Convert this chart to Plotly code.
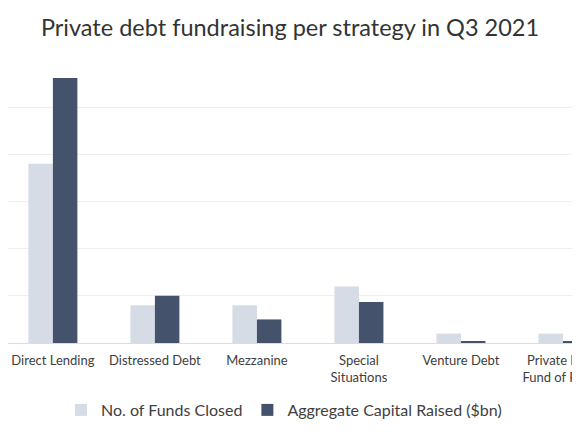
#!/usr/bin/env python3
"""Private debt fundraising per strategy, Q3 2021 (grouped bars)."""

import plotly.graph_objects as go

STRATEGIES = [
    'Direct Lending',
    'Distressed Debt',
    'Mezzanine',
    'Special<br>Situations',
    'Venture Debt',
    'Private Debt<br>Fund of Funds',
]
FUNDS_CLOSED = [38, 8, 8, 12, 2, 2]
CAPITAL_RAISED = [56.2, 10, 5, 8.7, 0.3, 0.3]

LIGHT = '#d5dce6'
DARK = '#44536b'
FONT = 'Lato, "Open Sans", sans-serif'

# the page body adds an 8px offset, so the figure is made that much smaller
# and the layout is shifted up/left to fit the 580x435 window
PLOT_TOP = 52
PLOT_BOTTOM = 335
HEIGHT = 427
WIDTH = 572


def build_figure() -> go.Figure:
    fig = go.Figure()
    fig.add_trace(go.Bar(
        x=STRATEGIES, y=FUNDS_CLOSED, name='No. of Funds Closed',
        marker=dict(color=LIGHT, line=dict(width=0)),
    ))
    fig.add_trace(go.Bar(
        x=STRATEGIES, y=CAPITAL_RAISED, name='Aggregate Capital Raised ($bn)',
        marker=dict(color=DARK, line=dict(width=0)),
    ))

    plot_h = PLOT_BOTTOM - PLOT_TOP
    fig.update_layout(
        width=WIDTH,
        height=HEIGHT,
        margin=dict(l=0, r=0, t=PLOT_TOP, b=HEIGHT - PLOT_BOTTOM, autoexpand=False),
        paper_bgcolor='white',
        plot_bgcolor='white',
        font=dict(family=FONT, color='#404040', size=13),
        title=dict(
            text='Private debt fundraising per strategy in Q3 2021',
            x=282 / WIDTH, xanchor='center', y=1 - 20 / HEIGHT, yanchor='middle',
            font=dict(family=FONT, size=23.5, color='#333333'),
        ),
        barmode='group',
        bargap=0.52,
        bargroupgap=0,
        showlegend=True,
        legend=dict(
            orientation='h', x=276 / WIDTH, xanchor='center',
            y=-(402 - PLOT_BOTTOM) / plot_h, yanchor='middle',
            font=dict(size=16, color='#404040'),
        ),
        xaxis=dict(
            # first category nudged right a little so its label is not clipped
            range=[-0.44, 5.167],
            showgrid=False,
            showline=True, linecolor='#dddddd', linewidth=1,
            ticks='', ticklabelstandoff=5,
            tickfont=dict(size=13, color='#404040'),
        ),
        yaxis=dict(
            range=[0, 60],
            dtick=10,
            showgrid=True, gridcolor='#efefef', gridwidth=1,
            zeroline=False,
            showticklabels=False,
        ),
    )
    return fig


def main() -> None:
    fig = build_figure()
    fig.write_html('out.html')


if __name__ == '__main__':
    main()
